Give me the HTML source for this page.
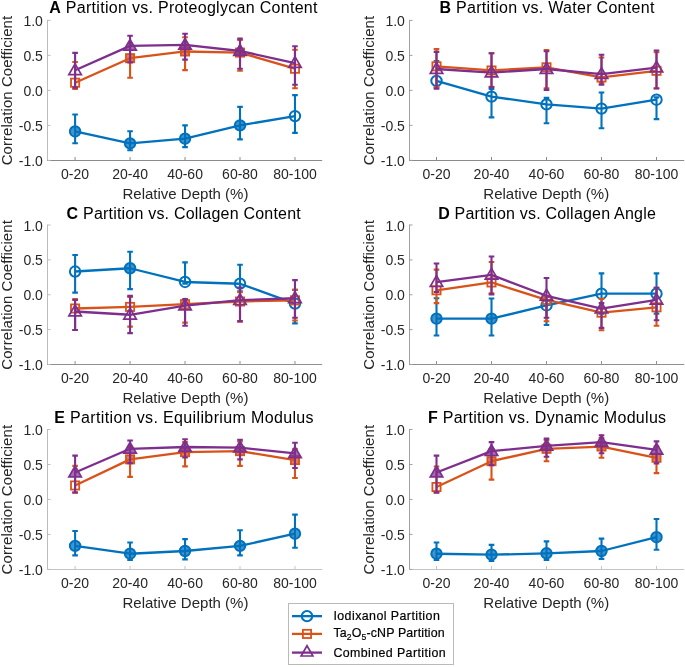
<!DOCTYPE html>
<html><head><meta charset="utf-8"><style>
html,body{margin:0;padding:0;background:#fff;}
svg{display:block;will-change:transform;filter:blur(0.35px);}
text{font-family:"Liberation Sans", sans-serif;}
.tk{font-size:14px;fill:#262626;}
.lb{font-size:15px;fill:#262626;}
.tt{font-size:16px;fill:#000;}
.lg{font-size:12.4px;fill:#000;stroke:#000;stroke-width:0.2px;}
</style></head><body>
<svg width="685" height="667" viewBox="0 0 685 667">
<rect width="685" height="667" fill="#fff"/>
<path d="M47.50 19.90V160.50" fill="none" stroke="#bcbcbc" stroke-width="1"/>
<path d="M47.00 160.50H322.20" fill="none" stroke="#8a8a8a" stroke-width="1"/>
<path d="M47.50 20.40h3 M47.50 55.40h3 M47.50 90.40h3 M47.50 125.40h3 M47.50 160.40h3" stroke="#bcbcbc" stroke-width="1"/>
<path d="M75.10 160.50v-3.5 M130.07 160.50v-3.5 M185.04 160.50v-3.5 M240.01 160.50v-3.5 M294.98 160.50v-3.5" stroke="#8a8a8a" stroke-width="1"/>
<text x="42.90" y="26" text-anchor="end" class="tk">1.0</text>
<text x="42.90" y="61" text-anchor="end" class="tk">0.5</text>
<text x="42.90" y="96" text-anchor="end" class="tk">0.0</text>
<text x="42.90" y="131" text-anchor="end" class="tk">-0.5</text>
<text x="42.90" y="166" text-anchor="end" class="tk">-1.0</text>
<text x="75.10" y="179" text-anchor="middle" class="tk">0-20</text>
<text x="130.07" y="179" text-anchor="middle" class="tk">20-40</text>
<text x="185.04" y="179" text-anchor="middle" class="tk">40-60</text>
<text x="240.01" y="179" text-anchor="middle" class="tk">60-80</text>
<text x="294.98" y="179" text-anchor="middle" class="tk">80-100</text>
<text x="185.45" y="199" text-anchor="middle" class="lb">Relative Depth (%)</text>
<text transform="translate(12.10 90.60) rotate(-90)" text-anchor="middle" class="lb" textLength="149.5" lengthAdjust="spacing">Correlation Coefficient</text>
<text x="49.20" y="12.70" class="tt" textLength="268.30" lengthAdjust="spacing"><tspan font-weight="bold">A</tspan> Partition vs. Proteoglycan Content</text>
<path d="M75.10 114.48V143.32M72.30 114.48h5.6M72.30 143.32h5.6 M130.07 131.28V150.25M127.27 131.28h5.6M127.27 150.25h5.6 M185.04 125.40V147.10M182.24 125.40h5.6M182.24 147.10h5.6 M240.01 106.92V139.40M237.21 106.92h5.6M237.21 139.40h5.6 M294.98 95.09V132.89M292.18 95.09h5.6M292.18 132.89h5.6" stroke="#0072BD" stroke-width="2.1" fill="none"/>
<polyline points="75.10,131.49 130.07,143.39 185.04,138.70 240.01,125.40 294.98,116.09" stroke="#0072BD" stroke-width="2.3" fill="none" stroke-linejoin="round"/>
<circle cx="75.10" cy="131.49" r="5.2" stroke="#0072BD" stroke-width="2" fill="#0072BD" fill-opacity="0.75"/>
<circle cx="130.07" cy="143.39" r="5.2" stroke="#0072BD" stroke-width="2" fill="#0072BD" fill-opacity="0.75"/>
<circle cx="185.04" cy="138.70" r="5.2" stroke="#0072BD" stroke-width="2" fill="#0072BD" fill-opacity="0.75"/>
<circle cx="240.01" cy="125.40" r="5.2" stroke="#0072BD" stroke-width="2" fill="#0072BD" fill-opacity="0.75"/>
<circle cx="294.98" cy="116.09" r="5.2" stroke="#0072BD" stroke-width="2" fill="none"/>
<path d="M75.10 62.05V89.00M72.30 62.05h5.6M72.30 89.00h5.6 M130.07 43.50V77.80M127.27 43.50h5.6M127.27 77.80h5.6 M185.04 37.20V70.10M182.24 37.20h5.6M182.24 70.10h5.6 M240.01 40.00V70.80M237.21 40.00h5.6M237.21 70.80h5.6 M294.98 49.80V88.30M292.18 49.80h5.6M292.18 88.30h5.6" stroke="#D95319" stroke-width="2.1" fill="none"/>
<polyline points="75.10,82.70 130.07,58.20 185.04,51.48 240.01,52.60 294.98,68.70" stroke="#D95319" stroke-width="2.3" fill="none" stroke-linejoin="round"/>
<rect x="71.00" y="78.60" width="8.2" height="8.2" stroke="#D95319" stroke-width="1.8" fill="none"/>
<rect x="125.97" y="54.10" width="8.2" height="8.2" stroke="#D95319" stroke-width="1.8" fill="#D95319" fill-opacity="0.75"/>
<rect x="180.94" y="47.38" width="8.2" height="8.2" stroke="#D95319" stroke-width="1.8" fill="#D95319" fill-opacity="0.75"/>
<rect x="235.91" y="48.50" width="8.2" height="8.2" stroke="#D95319" stroke-width="1.8" fill="#D95319" fill-opacity="0.75"/>
<rect x="290.88" y="64.60" width="8.2" height="8.2" stroke="#D95319" stroke-width="1.8" fill="none"/>
<path d="M75.10 52.88V87.67M72.30 52.88h5.6M72.30 87.67h5.6 M130.07 35.80V62.40M127.27 35.80h5.6M127.27 62.40h5.6 M185.04 33.70V59.60M182.24 33.70h5.6M182.24 59.60h5.6 M240.01 38.60V68.70M237.21 38.60h5.6M237.21 68.70h5.6 M294.98 46.30V84.80M292.18 46.30h5.6M292.18 84.80h5.6" stroke="#7E2F8E" stroke-width="2.1" fill="none"/>
<polyline points="75.10,70.31 130.07,45.88 185.04,44.97 240.01,50.99 294.98,63.10" stroke="#7E2F8E" stroke-width="2.3" fill="none" stroke-linejoin="round"/>
<path d="M75.10 63.81L81.34 74.61L68.86 74.61Z" stroke="#7E2F8E" stroke-width="1.7" stroke-linejoin="miter" fill="none"/>
<path d="M130.07 39.38L136.31 50.18L123.83 50.18Z" stroke="#7E2F8E" stroke-width="1.7" stroke-linejoin="miter" fill="#7E2F8E" fill-opacity="0.7"/>
<path d="M185.04 38.47L191.28 49.27L178.80 49.27Z" stroke="#7E2F8E" stroke-width="1.7" stroke-linejoin="miter" fill="#7E2F8E" fill-opacity="0.7"/>
<path d="M240.01 44.49L246.25 55.29L233.77 55.29Z" stroke="#7E2F8E" stroke-width="1.7" stroke-linejoin="miter" fill="#7E2F8E" fill-opacity="0.7"/>
<path d="M294.98 56.60L301.22 67.40L288.74 67.40Z" stroke="#7E2F8E" stroke-width="1.7" stroke-linejoin="miter" fill="none"/>
<path d="M409.50 19.90V160.50" fill="none" stroke="#a0a0a0" stroke-width="1"/>
<path d="M409.00 160.50H684.20" fill="none" stroke="#8a8a8a" stroke-width="1"/>
<path d="M409.50 20.40h3 M409.50 55.40h3 M409.50 90.40h3 M409.50 125.40h3 M409.50 160.40h3" stroke="#a0a0a0" stroke-width="1"/>
<path d="M436.50 160.50v-3.5 M491.50 160.50v-3.5 M546.50 160.50v-3.5 M601.50 160.50v-3.5 M656.50 160.50v-3.5" stroke="#8a8a8a" stroke-width="1"/>
<text x="404.90" y="26" text-anchor="end" class="tk">1.0</text>
<text x="404.90" y="61" text-anchor="end" class="tk">0.5</text>
<text x="404.90" y="96" text-anchor="end" class="tk">0.0</text>
<text x="404.90" y="131" text-anchor="end" class="tk">-0.5</text>
<text x="404.90" y="166" text-anchor="end" class="tk">-1.0</text>
<text x="436.50" y="179" text-anchor="middle" class="tk">0-20</text>
<text x="491.50" y="179" text-anchor="middle" class="tk">20-40</text>
<text x="546.50" y="179" text-anchor="middle" class="tk">40-60</text>
<text x="601.50" y="179" text-anchor="middle" class="tk">60-80</text>
<text x="656.50" y="179" text-anchor="middle" class="tk">80-100</text>
<text x="546.25" y="199" text-anchor="middle" class="lb">Relative Depth (%)</text>
<text transform="translate(373.90 90.60) rotate(-90)" text-anchor="middle" class="lb" textLength="149.5" lengthAdjust="spacing">Correlation Coefficient</text>
<text x="439.40" y="12.50" class="tt" textLength="215.00" lengthAdjust="spacing"><tspan font-weight="bold">B</tspan> Partition vs. Water Content</text>
<path d="M436.50 61.00V87.39M433.70 61.00h5.6M433.70 87.39h5.6 M491.50 89.00V117.35M488.70 89.00h5.6M488.70 117.35h5.6 M546.50 97.89V123.30M543.70 97.89h5.6M543.70 123.30h5.6 M601.50 92.50V128.20M598.70 92.50h5.6M598.70 128.20h5.6 M656.50 97.40V119.10M653.70 97.40h5.6M653.70 119.10h5.6" stroke="#0072BD" stroke-width="2.1" fill="none"/>
<polyline points="436.50,80.88 491.50,96.63 546.50,104.40 601.50,108.60 656.50,99.71" stroke="#0072BD" stroke-width="2.3" fill="none" stroke-linejoin="round"/>
<circle cx="436.50" cy="80.88" r="5.2" stroke="#0072BD" stroke-width="2" fill="none"/>
<circle cx="491.50" cy="96.63" r="5.2" stroke="#0072BD" stroke-width="2" fill="none"/>
<circle cx="546.50" cy="104.40" r="5.2" stroke="#0072BD" stroke-width="2" fill="none"/>
<circle cx="601.50" cy="108.60" r="5.2" stroke="#0072BD" stroke-width="2" fill="none"/>
<circle cx="656.50" cy="99.71" r="5.2" stroke="#0072BD" stroke-width="2" fill="none"/>
<path d="M436.50 49.10V87.11M433.70 49.10h5.6M433.70 87.11h5.6 M491.50 53.30V86.90M488.70 53.30h5.6M488.70 86.90h5.6 M546.50 50.15V88.30M543.70 50.15h5.6M543.70 88.30h5.6 M601.50 57.50V82.70M598.70 57.50h5.6M598.70 82.70h5.6 M656.50 52.25V88.30M653.70 52.25h5.6M653.70 88.30h5.6" stroke="#D95319" stroke-width="2.1" fill="none"/>
<polyline points="436.50,66.32 491.50,70.45 546.50,67.30 601.50,77.45 656.50,70.80" stroke="#D95319" stroke-width="2.3" fill="none" stroke-linejoin="round"/>
<rect x="432.40" y="62.22" width="8.2" height="8.2" stroke="#D95319" stroke-width="1.8" fill="none"/>
<rect x="487.40" y="66.35" width="8.2" height="8.2" stroke="#D95319" stroke-width="1.8" fill="none"/>
<rect x="542.40" y="63.20" width="8.2" height="8.2" stroke="#D95319" stroke-width="1.8" fill="none"/>
<rect x="597.40" y="73.35" width="8.2" height="8.2" stroke="#D95319" stroke-width="1.8" fill="none"/>
<rect x="652.40" y="66.70" width="8.2" height="8.2" stroke="#D95319" stroke-width="1.8" fill="none"/>
<path d="M436.50 51.90V88.72M433.70 51.90h5.6M433.70 88.72h5.6 M491.50 53.30V87.39M488.70 53.30h5.6M488.70 87.39h5.6 M546.50 51.20V89.91M543.70 51.20h5.6M543.70 89.91h5.6 M601.50 54.70V84.59M598.70 54.70h5.6M598.70 84.59h5.6 M656.50 50.50V88.51M653.70 50.50h5.6M653.70 88.51h5.6" stroke="#7E2F8E" stroke-width="2.1" fill="none"/>
<polyline points="436.50,68.98 491.50,72.55 546.50,68.98 601.50,74.09 656.50,67.65" stroke="#7E2F8E" stroke-width="2.3" fill="none" stroke-linejoin="round"/>
<path d="M436.50 62.48L442.74 73.28L430.26 73.28Z" stroke="#7E2F8E" stroke-width="1.7" stroke-linejoin="miter" fill="none"/>
<path d="M491.50 66.05L497.74 76.85L485.26 76.85Z" stroke="#7E2F8E" stroke-width="1.7" stroke-linejoin="miter" fill="none"/>
<path d="M546.50 62.48L552.74 73.28L540.26 73.28Z" stroke="#7E2F8E" stroke-width="1.7" stroke-linejoin="miter" fill="none"/>
<path d="M601.50 67.59L607.74 78.39L595.26 78.39Z" stroke="#7E2F8E" stroke-width="1.7" stroke-linejoin="miter" fill="none"/>
<path d="M656.50 61.15L662.74 71.95L650.26 71.95Z" stroke="#7E2F8E" stroke-width="1.7" stroke-linejoin="miter" fill="none"/>
<path d="M47.50 224.50V364.50" fill="none" stroke="#bcbcbc" stroke-width="1"/>
<path d="M47.00 364.50H322.20" fill="none" stroke="#909090" stroke-width="1"/>
<path d="M47.50 225.00h3 M47.50 259.88h3 M47.50 294.75h3 M47.50 329.62h3 M47.50 364.50h3" stroke="#bcbcbc" stroke-width="1"/>
<path d="M75.10 364.50v-3.5 M130.07 364.50v-3.5 M185.04 364.50v-3.5 M240.01 364.50v-3.5 M294.98 364.50v-3.5" stroke="#909090" stroke-width="1"/>
<text x="42.90" y="231" text-anchor="end" class="tk">1.0</text>
<text x="42.90" y="265" text-anchor="end" class="tk">0.5</text>
<text x="42.90" y="300" text-anchor="end" class="tk">0.0</text>
<text x="42.90" y="335" text-anchor="end" class="tk">-0.5</text>
<text x="42.90" y="370" text-anchor="end" class="tk">-1.0</text>
<text x="75.10" y="383" text-anchor="middle" class="tk">0-20</text>
<text x="130.07" y="383" text-anchor="middle" class="tk">20-40</text>
<text x="185.04" y="383" text-anchor="middle" class="tk">40-60</text>
<text x="240.01" y="383" text-anchor="middle" class="tk">60-80</text>
<text x="294.98" y="383" text-anchor="middle" class="tk">80-100</text>
<text x="185.45" y="403" text-anchor="middle" class="lb">Relative Depth (%)</text>
<text transform="translate(12.10 294.95) rotate(-90)" text-anchor="middle" class="lb" textLength="149.5" lengthAdjust="spacing">Correlation Coefficient</text>
<text x="66.60" y="219.30" class="tt" textLength="234.10" lengthAdjust="spacing"><tspan font-weight="bold">C</tspan> Partition vs. Collagen Content</text>
<path d="M75.10 254.99V292.66M72.30 254.99h5.6M72.30 292.66h5.6 M130.07 251.78V289.17M127.27 251.78h5.6M127.27 289.17h5.6 M185.04 262.39V283.59M182.24 262.39h5.6M182.24 283.59h5.6 M240.01 264.76V291.26M237.21 264.76h5.6M237.21 291.26h5.6 M294.98 289.87V323.35M292.18 289.87h5.6M292.18 323.35h5.6" stroke="#0072BD" stroke-width="2.1" fill="none"/>
<polyline points="75.10,271.52 130.07,268.25 185.04,281.99 240.01,283.73 294.98,303.61" stroke="#0072BD" stroke-width="2.3" fill="none" stroke-linejoin="round"/>
<circle cx="75.10" cy="271.52" r="5.2" stroke="#0072BD" stroke-width="2" fill="none"/>
<circle cx="130.07" cy="268.25" r="5.2" stroke="#0072BD" stroke-width="2" fill="#0072BD" fill-opacity="0.75"/>
<circle cx="185.04" cy="281.99" r="5.2" stroke="#0072BD" stroke-width="2" fill="none"/>
<circle cx="240.01" cy="283.73" r="5.2" stroke="#0072BD" stroke-width="2" fill="none"/>
<circle cx="294.98" cy="303.61" r="5.2" stroke="#0072BD" stroke-width="2" fill="none"/>
<path d="M75.10 298.94V329.97M72.30 298.94h5.6M72.30 329.97h5.6 M130.07 296.84V326.63M127.27 296.84h5.6M127.27 326.63h5.6 M185.04 300.33V322.65M182.24 300.33h5.6M182.24 322.65h5.6 M240.01 292.10V321.81M237.21 292.10h5.6M237.21 321.81h5.6 M294.98 289.87V320.56M292.18 289.87h5.6M292.18 320.56h5.6" stroke="#D95319" stroke-width="2.1" fill="none"/>
<polyline points="75.10,308.49 130.07,306.89 185.04,304.17 240.01,301.52 294.98,300.33" stroke="#D95319" stroke-width="2.3" fill="none" stroke-linejoin="round"/>
<rect x="71.00" y="304.39" width="8.2" height="8.2" stroke="#D95319" stroke-width="1.8" fill="none"/>
<rect x="125.97" y="302.79" width="8.2" height="8.2" stroke="#D95319" stroke-width="1.8" fill="none"/>
<rect x="180.94" y="300.07" width="8.2" height="8.2" stroke="#D95319" stroke-width="1.8" fill="none"/>
<rect x="235.91" y="297.42" width="8.2" height="8.2" stroke="#D95319" stroke-width="1.8" fill="none"/>
<rect x="290.88" y="296.23" width="8.2" height="8.2" stroke="#D95319" stroke-width="1.8" fill="none"/>
<path d="M75.10 299.98V329.97M72.30 299.98h5.6M72.30 329.97h5.6 M130.07 295.87V333.11M127.27 295.87h5.6M127.27 333.11h5.6 M185.04 298.94V325.72M182.24 298.94h5.6M182.24 325.72h5.6 M240.01 287.43V321.12M237.21 287.43h5.6M237.21 321.12h5.6 M294.98 280.10V317.77M292.18 280.10h5.6M292.18 317.77h5.6" stroke="#7E2F8E" stroke-width="2.1" fill="none"/>
<polyline points="75.10,311.49 130.07,314.77 185.04,305.56 240.01,300.19 294.98,298.24" stroke="#7E2F8E" stroke-width="2.3" fill="none" stroke-linejoin="round"/>
<path d="M75.10 304.99L81.34 315.79L68.86 315.79Z" stroke="#7E2F8E" stroke-width="1.7" stroke-linejoin="miter" fill="none"/>
<path d="M130.07 308.27L136.31 319.07L123.83 319.07Z" stroke="#7E2F8E" stroke-width="1.7" stroke-linejoin="miter" fill="none"/>
<path d="M185.04 299.06L191.28 309.86L178.80 309.86Z" stroke="#7E2F8E" stroke-width="1.7" stroke-linejoin="miter" fill="none"/>
<path d="M240.01 293.69L246.25 304.49L233.77 304.49Z" stroke="#7E2F8E" stroke-width="1.7" stroke-linejoin="miter" fill="none"/>
<path d="M294.98 291.74L301.22 302.54L288.74 302.54Z" stroke="#7E2F8E" stroke-width="1.7" stroke-linejoin="miter" fill="none"/>
<path d="M409.50 224.50V364.50" fill="none" stroke="#a0a0a0" stroke-width="1"/>
<path d="M409.00 364.50H684.20" fill="none" stroke="#909090" stroke-width="1"/>
<path d="M409.50 225.00h3 M409.50 259.88h3 M409.50 294.75h3 M409.50 329.62h3 M409.50 364.50h3" stroke="#a0a0a0" stroke-width="1"/>
<path d="M436.50 364.50v-3.5 M491.50 364.50v-3.5 M546.50 364.50v-3.5 M601.50 364.50v-3.5 M656.50 364.50v-3.5" stroke="#909090" stroke-width="1"/>
<text x="404.90" y="231" text-anchor="end" class="tk">1.0</text>
<text x="404.90" y="265" text-anchor="end" class="tk">0.5</text>
<text x="404.90" y="300" text-anchor="end" class="tk">0.0</text>
<text x="404.90" y="335" text-anchor="end" class="tk">-0.5</text>
<text x="404.90" y="370" text-anchor="end" class="tk">-1.0</text>
<text x="436.50" y="383" text-anchor="middle" class="tk">0-20</text>
<text x="491.50" y="383" text-anchor="middle" class="tk">20-40</text>
<text x="546.50" y="383" text-anchor="middle" class="tk">40-60</text>
<text x="601.50" y="383" text-anchor="middle" class="tk">60-80</text>
<text x="656.50" y="383" text-anchor="middle" class="tk">80-100</text>
<text x="546.25" y="403" text-anchor="middle" class="lb">Relative Depth (%)</text>
<text transform="translate(373.90 294.95) rotate(-90)" text-anchor="middle" class="lb" textLength="149.5" lengthAdjust="spacing">Correlation Coefficient</text>
<text x="438.20" y="219.40" class="tt" textLength="217.60" lengthAdjust="spacing"><tspan font-weight="bold">D</tspan> Partition vs. Collagen Angle</text>
<path d="M436.50 298.24V335.48M433.70 298.24h5.6M433.70 335.48h5.6 M491.50 298.52V335.48M488.70 298.52h5.6M488.70 335.48h5.6 M546.50 296.84V325.02M543.70 296.84h5.6M543.70 325.02h5.6 M601.50 273.34V313.58M598.70 273.34h5.6M598.70 313.58h5.6 M656.50 273.34V313.58M653.70 273.34h5.6M653.70 313.58h5.6" stroke="#0072BD" stroke-width="2.1" fill="none"/>
<polyline points="436.50,318.67 491.50,318.67 546.50,305.42 601.50,293.70 656.50,293.70" stroke="#0072BD" stroke-width="2.3" fill="none" stroke-linejoin="round"/>
<circle cx="436.50" cy="318.67" r="5.2" stroke="#0072BD" stroke-width="2" fill="#0072BD" fill-opacity="0.75"/>
<circle cx="491.50" cy="318.67" r="5.2" stroke="#0072BD" stroke-width="2" fill="#0072BD" fill-opacity="0.75"/>
<circle cx="546.50" cy="305.42" r="5.2" stroke="#0072BD" stroke-width="2" fill="none"/>
<circle cx="601.50" cy="293.70" r="5.2" stroke="#0072BD" stroke-width="2" fill="none"/>
<circle cx="656.50" cy="293.70" r="5.2" stroke="#0072BD" stroke-width="2" fill="none"/>
<path d="M436.50 269.64V303.12M433.70 269.64h5.6M433.70 303.12h5.6 M491.50 261.97V293.36M488.70 261.97h5.6M488.70 293.36h5.6 M546.50 296.84V321.25M543.70 296.84h5.6M543.70 321.25h5.6 M601.50 298.94V330.32M598.70 298.94h5.6M598.70 330.32h5.6 M656.50 287.77V325.79M653.70 287.77h5.6M653.70 325.79h5.6" stroke="#D95319" stroke-width="2.1" fill="none"/>
<polyline points="436.50,290.29 491.50,282.47 546.50,299.91 601.50,312.68 656.50,307.31" stroke="#D95319" stroke-width="2.3" fill="none" stroke-linejoin="round"/>
<rect x="432.40" y="286.19" width="8.2" height="8.2" stroke="#D95319" stroke-width="1.8" fill="none"/>
<rect x="487.40" y="278.37" width="8.2" height="8.2" stroke="#D95319" stroke-width="1.8" fill="none"/>
<rect x="542.40" y="295.81" width="8.2" height="8.2" stroke="#D95319" stroke-width="1.8" fill="none"/>
<rect x="597.40" y="308.58" width="8.2" height="8.2" stroke="#D95319" stroke-width="1.8" fill="none"/>
<rect x="652.40" y="303.20" width="8.2" height="8.2" stroke="#D95319" stroke-width="1.8" fill="none"/>
<path d="M436.50 263.57V291.96M433.70 263.57h5.6M433.70 291.96h5.6 M491.50 256.53V294.33M488.70 256.53h5.6M488.70 294.33h5.6 M546.50 278.01V317.77M543.70 278.01h5.6M543.70 317.77h5.6 M601.50 303.12V327.88M598.70 303.12h5.6M598.70 327.88h5.6 M656.50 287.77V320.28M653.70 287.77h5.6M653.70 320.28h5.6" stroke="#7E2F8E" stroke-width="2.1" fill="none"/>
<polyline points="436.50,282.19 491.50,274.87 546.50,295.80 601.50,308.70 656.50,299.91" stroke="#7E2F8E" stroke-width="2.3" fill="none" stroke-linejoin="round"/>
<path d="M436.50 275.69L442.74 286.50L430.26 286.50Z" stroke="#7E2F8E" stroke-width="1.7" stroke-linejoin="miter" fill="none"/>
<path d="M491.50 268.37L497.74 279.17L485.26 279.17Z" stroke="#7E2F8E" stroke-width="1.7" stroke-linejoin="miter" fill="none"/>
<path d="M546.50 289.30L552.74 300.10L540.26 300.10Z" stroke="#7E2F8E" stroke-width="1.7" stroke-linejoin="miter" fill="none"/>
<path d="M601.50 302.20L607.74 313.00L595.26 313.00Z" stroke="#7E2F8E" stroke-width="1.7" stroke-linejoin="miter" fill="none"/>
<path d="M656.50 293.41L662.74 304.21L650.26 304.21Z" stroke="#7E2F8E" stroke-width="1.7" stroke-linejoin="miter" fill="none"/>
<path d="M47.50 429.00V569.50" fill="none" stroke="#bcbcbc" stroke-width="1"/>
<path d="M47.00 569.50H322.20" fill="none" stroke="#c4c4c4" stroke-width="1"/>
<path d="M47.50 429.50h3 M47.50 464.48h3 M47.50 499.45h3 M47.50 534.42h3 M47.50 569.40h3" stroke="#bcbcbc" stroke-width="1"/>
<path d="M75.10 569.50v-3.5 M130.07 569.50v-3.5 M185.04 569.50v-3.5 M240.01 569.50v-3.5 M294.98 569.50v-3.5" stroke="#c4c4c4" stroke-width="1"/>
<text x="42.90" y="435" text-anchor="end" class="tk">1.0</text>
<text x="42.90" y="470" text-anchor="end" class="tk">0.5</text>
<text x="42.90" y="505" text-anchor="end" class="tk">0.0</text>
<text x="42.90" y="540" text-anchor="end" class="tk">-0.5</text>
<text x="42.90" y="575" text-anchor="end" class="tk">-1.0</text>
<text x="75.10" y="588" text-anchor="middle" class="tk">0-20</text>
<text x="130.07" y="588" text-anchor="middle" class="tk">20-40</text>
<text x="185.04" y="588" text-anchor="middle" class="tk">40-60</text>
<text x="240.01" y="588" text-anchor="middle" class="tk">60-80</text>
<text x="294.98" y="588" text-anchor="middle" class="tk">80-100</text>
<text x="185.45" y="608" text-anchor="middle" class="lb">Relative Depth (%)</text>
<text transform="translate(12.10 499.65) rotate(-90)" text-anchor="middle" class="lb" textLength="149.5" lengthAdjust="spacing">Correlation Coefficient</text>
<text x="54.20" y="422.50" class="tt" textLength="259.40" lengthAdjust="spacing"><tspan font-weight="bold">E</tspan> Partition vs. Equilibrium Modulus</text>
<path d="M75.10 530.93V555.41M72.30 530.93h5.6M72.30 555.41h5.6 M130.07 542.54V560.03M127.27 542.54h5.6M127.27 560.03h5.6 M185.04 539.11V559.33M182.24 539.11h5.6M182.24 559.33h5.6 M240.01 530.23V555.41M237.21 530.23h5.6M237.21 555.41h5.6 M294.98 514.63V547.72M292.18 514.63h5.6M292.18 547.72h5.6" stroke="#0072BD" stroke-width="2.1" fill="none"/>
<polyline points="75.10,545.90 130.07,553.73 185.04,551.00 240.01,545.90 294.98,533.73" stroke="#0072BD" stroke-width="2.3" fill="none" stroke-linejoin="round"/>
<circle cx="75.10" cy="545.90" r="5.2" stroke="#0072BD" stroke-width="2" fill="#0072BD" fill-opacity="0.75"/>
<circle cx="130.07" cy="553.73" r="5.2" stroke="#0072BD" stroke-width="2" fill="#0072BD" fill-opacity="0.75"/>
<circle cx="185.04" cy="551.00" r="5.2" stroke="#0072BD" stroke-width="2" fill="#0072BD" fill-opacity="0.75"/>
<circle cx="240.01" cy="545.90" r="5.2" stroke="#0072BD" stroke-width="2" fill="#0072BD" fill-opacity="0.75"/>
<circle cx="294.98" cy="533.73" r="5.2" stroke="#0072BD" stroke-width="2" fill="#0072BD" fill-opacity="0.75"/>
<path d="M75.10 465.87V492.66M72.30 465.87h5.6M72.30 492.66h5.6 M130.07 446.99V476.86M127.27 446.99h5.6M127.27 476.86h5.6 M185.04 442.09V466.36M182.24 442.09h5.6M182.24 466.36h5.6 M240.01 441.39V465.87M237.21 441.39h5.6M237.21 465.87h5.6 M294.98 449.09V477.98M292.18 449.09h5.6M292.18 477.98h5.6" stroke="#D95319" stroke-width="2.1" fill="none"/>
<polyline points="75.10,485.46 130.07,459.37 185.04,452.16 240.01,451.18 294.98,460.07" stroke="#D95319" stroke-width="2.3" fill="none" stroke-linejoin="round"/>
<rect x="71.00" y="481.36" width="8.2" height="8.2" stroke="#D95319" stroke-width="1.8" fill="none"/>
<rect x="125.97" y="455.27" width="8.2" height="8.2" stroke="#D95319" stroke-width="1.8" fill="#D95319" fill-opacity="0.75"/>
<rect x="180.94" y="448.06" width="8.2" height="8.2" stroke="#D95319" stroke-width="1.8" fill="#D95319" fill-opacity="0.75"/>
<rect x="235.91" y="447.08" width="8.2" height="8.2" stroke="#D95319" stroke-width="1.8" fill="#D95319" fill-opacity="0.75"/>
<rect x="290.88" y="455.97" width="8.2" height="8.2" stroke="#D95319" stroke-width="1.8" fill="#D95319" fill-opacity="0.75"/>
<path d="M75.10 455.59V492.45M72.30 455.59h5.6M72.30 492.45h5.6 M130.07 440.48V463.08M127.27 440.48h5.6M127.27 463.08h5.6 M185.04 439.29V457.48M182.24 439.29h5.6M182.24 457.48h5.6 M240.01 439.78V459.37M237.21 439.78h5.6M237.21 459.37h5.6 M294.98 442.79V467.97M292.18 442.79h5.6M292.18 467.97h5.6" stroke="#7E2F8E" stroke-width="2.1" fill="none"/>
<polyline points="75.10,472.52 130.07,448.81 185.04,446.99 240.01,447.69 294.98,453.28" stroke="#7E2F8E" stroke-width="2.3" fill="none" stroke-linejoin="round"/>
<path d="M75.10 466.02L81.34 476.82L68.86 476.82Z" stroke="#7E2F8E" stroke-width="1.7" stroke-linejoin="miter" fill="#7E2F8E" fill-opacity="0.7"/>
<path d="M130.07 442.31L136.31 453.11L123.83 453.11Z" stroke="#7E2F8E" stroke-width="1.7" stroke-linejoin="miter" fill="#7E2F8E" fill-opacity="0.7"/>
<path d="M185.04 440.49L191.28 451.29L178.80 451.29Z" stroke="#7E2F8E" stroke-width="1.7" stroke-linejoin="miter" fill="#7E2F8E" fill-opacity="0.7"/>
<path d="M240.01 441.19L246.25 451.99L233.77 451.99Z" stroke="#7E2F8E" stroke-width="1.7" stroke-linejoin="miter" fill="#7E2F8E" fill-opacity="0.7"/>
<path d="M294.98 446.78L301.22 457.58L288.74 457.58Z" stroke="#7E2F8E" stroke-width="1.7" stroke-linejoin="miter" fill="#7E2F8E" fill-opacity="0.7"/>
<path d="M409.50 429.00V569.50" fill="none" stroke="#a0a0a0" stroke-width="1"/>
<path d="M409.00 569.50H684.20" fill="none" stroke="#c4c4c4" stroke-width="1"/>
<path d="M409.50 429.50h3 M409.50 464.48h3 M409.50 499.45h3 M409.50 534.42h3 M409.50 569.40h3" stroke="#a0a0a0" stroke-width="1"/>
<path d="M436.50 569.50v-3.5 M491.50 569.50v-3.5 M546.50 569.50v-3.5 M601.50 569.50v-3.5 M656.50 569.50v-3.5" stroke="#c4c4c4" stroke-width="1"/>
<text x="404.90" y="435" text-anchor="end" class="tk">1.0</text>
<text x="404.90" y="470" text-anchor="end" class="tk">0.5</text>
<text x="404.90" y="505" text-anchor="end" class="tk">0.0</text>
<text x="404.90" y="540" text-anchor="end" class="tk">-0.5</text>
<text x="404.90" y="575" text-anchor="end" class="tk">-1.0</text>
<text x="436.50" y="588" text-anchor="middle" class="tk">0-20</text>
<text x="491.50" y="588" text-anchor="middle" class="tk">20-40</text>
<text x="546.50" y="588" text-anchor="middle" class="tk">40-60</text>
<text x="601.50" y="588" text-anchor="middle" class="tk">60-80</text>
<text x="656.50" y="588" text-anchor="middle" class="tk">80-100</text>
<text x="546.25" y="608" text-anchor="middle" class="lb">Relative Depth (%)</text>
<text transform="translate(373.90 499.65) rotate(-90)" text-anchor="middle" class="lb" textLength="149.5" lengthAdjust="spacing">Correlation Coefficient</text>
<text x="427.90" y="422.50" class="tt" textLength="238.20" lengthAdjust="spacing"><tspan font-weight="bold">F</tspan> Partition vs. Dynamic Modulus</text>
<path d="M436.50 542.54V560.03M433.70 542.54h5.6M433.70 560.03h5.6 M491.50 544.92V561.01M488.70 544.92h5.6M488.70 561.01h5.6 M546.50 541.42V560.03M543.70 541.42h5.6M543.70 560.03h5.6 M601.50 538.62V558.91M598.70 538.62h5.6M598.70 558.91h5.6 M656.50 519.04V549.81M653.70 519.04h5.6M653.70 549.81h5.6" stroke="#0072BD" stroke-width="2.1" fill="none"/>
<polyline points="436.50,553.73 491.50,554.71 546.50,553.31 601.50,551.00 656.50,537.22" stroke="#0072BD" stroke-width="2.3" fill="none" stroke-linejoin="round"/>
<circle cx="436.50" cy="553.73" r="5.2" stroke="#0072BD" stroke-width="2" fill="#0072BD" fill-opacity="0.75"/>
<circle cx="491.50" cy="554.71" r="5.2" stroke="#0072BD" stroke-width="2" fill="#0072BD" fill-opacity="0.75"/>
<circle cx="546.50" cy="553.31" r="5.2" stroke="#0072BD" stroke-width="2" fill="#0072BD" fill-opacity="0.75"/>
<circle cx="601.50" cy="551.00" r="5.2" stroke="#0072BD" stroke-width="2" fill="#0072BD" fill-opacity="0.75"/>
<circle cx="656.50" cy="537.22" r="5.2" stroke="#0072BD" stroke-width="2" fill="#0072BD" fill-opacity="0.75"/>
<path d="M436.50 466.57V492.66M433.70 466.57h5.6M433.70 492.66h5.6 M491.50 449.09V479.58M488.70 449.09h5.6M488.70 479.58h5.6 M546.50 439.99V461.19M543.70 439.99h5.6M543.70 461.19h5.6 M601.50 437.89V457.76M598.70 437.89h5.6M598.70 457.76h5.6 M656.50 446.29V473.08M653.70 446.29h5.6M653.70 473.08h5.6" stroke="#D95319" stroke-width="2.1" fill="none"/>
<polyline points="436.50,487.00 491.50,461.19 546.50,448.81 601.50,446.57 656.50,457.76" stroke="#D95319" stroke-width="2.3" fill="none" stroke-linejoin="round"/>
<rect x="432.40" y="482.90" width="8.2" height="8.2" stroke="#D95319" stroke-width="1.8" fill="none"/>
<rect x="487.40" y="457.09" width="8.2" height="8.2" stroke="#D95319" stroke-width="1.8" fill="#D95319" fill-opacity="0.75"/>
<rect x="542.40" y="444.71" width="8.2" height="8.2" stroke="#D95319" stroke-width="1.8" fill="#D95319" fill-opacity="0.75"/>
<rect x="597.40" y="442.47" width="8.2" height="8.2" stroke="#D95319" stroke-width="1.8" fill="#D95319" fill-opacity="0.75"/>
<rect x="652.40" y="453.66" width="8.2" height="8.2" stroke="#D95319" stroke-width="1.8" fill="#D95319" fill-opacity="0.75"/>
<path d="M436.50 455.59V492.45M433.70 455.59h5.6M433.70 492.45h5.6 M491.50 442.09V465.17M488.70 442.09h5.6M488.70 465.17h5.6 M546.50 438.59V456.78M543.70 438.59h5.6M543.70 456.78h5.6 M601.50 435.31V453.28M598.70 435.31h5.6M598.70 453.28h5.6 M656.50 441.39V463.36M653.70 441.39h5.6M653.70 463.36h5.6" stroke="#7E2F8E" stroke-width="2.1" fill="none"/>
<polyline points="436.50,472.52 491.50,451.18 546.50,445.87 601.50,442.09 656.50,449.79" stroke="#7E2F8E" stroke-width="2.3" fill="none" stroke-linejoin="round"/>
<path d="M436.50 466.02L442.74 476.82L430.26 476.82Z" stroke="#7E2F8E" stroke-width="1.7" stroke-linejoin="miter" fill="#7E2F8E" fill-opacity="0.7"/>
<path d="M491.50 444.68L497.74 455.48L485.26 455.48Z" stroke="#7E2F8E" stroke-width="1.7" stroke-linejoin="miter" fill="#7E2F8E" fill-opacity="0.7"/>
<path d="M546.50 439.37L552.74 450.17L540.26 450.17Z" stroke="#7E2F8E" stroke-width="1.7" stroke-linejoin="miter" fill="#7E2F8E" fill-opacity="0.7"/>
<path d="M601.50 435.59L607.74 446.39L595.26 446.39Z" stroke="#7E2F8E" stroke-width="1.7" stroke-linejoin="miter" fill="#7E2F8E" fill-opacity="0.7"/>
<path d="M656.50 443.29L662.74 454.09L650.26 454.09Z" stroke="#7E2F8E" stroke-width="1.7" stroke-linejoin="miter" fill="#7E2F8E" fill-opacity="0.7"/>
<rect x="288.5" y="603.5" width="165" height="61" fill="#fff" stroke="#bababa" stroke-width="1"/>
<path d="M292 616.15H322" stroke="#0072BD" stroke-width="2.3"/>
<circle cx="307" cy="616.15" r="5.2" stroke="#0072BD" stroke-width="2" fill="none"/>
<path d="M292 633.90H322" stroke="#D95319" stroke-width="2.3"/>
<rect x="302.9" y="629.80" width="8.2" height="8.2" stroke="#D95319" stroke-width="1.8" fill="none"/>
<path d="M292 652.60H322" stroke="#7E2F8E" stroke-width="2.3"/>
<path d="M307 645.80L312.89 656.00L301.11 656.00Z" stroke="#7E2F8E" stroke-width="1.7" fill="none"/>
<text x="333.4" y="619.6" class="lg" textLength="106.4" lengthAdjust="spacing">Iodixanol Partition</text>
<text x="333.4" y="637.2" class="lg" textLength="111.2" lengthAdjust="spacing">Ta<tspan font-size="8.6" dy="2.6">2</tspan><tspan dy="-2.6">O</tspan><tspan font-size="8.6" dy="2.6">5</tspan><tspan dy="-2.6">-cNP Partition</tspan></text>
<text x="333.4" y="656.6" class="lg" textLength="112.2" lengthAdjust="spacing">Combined Partition</text>
</svg>
</body></html>
